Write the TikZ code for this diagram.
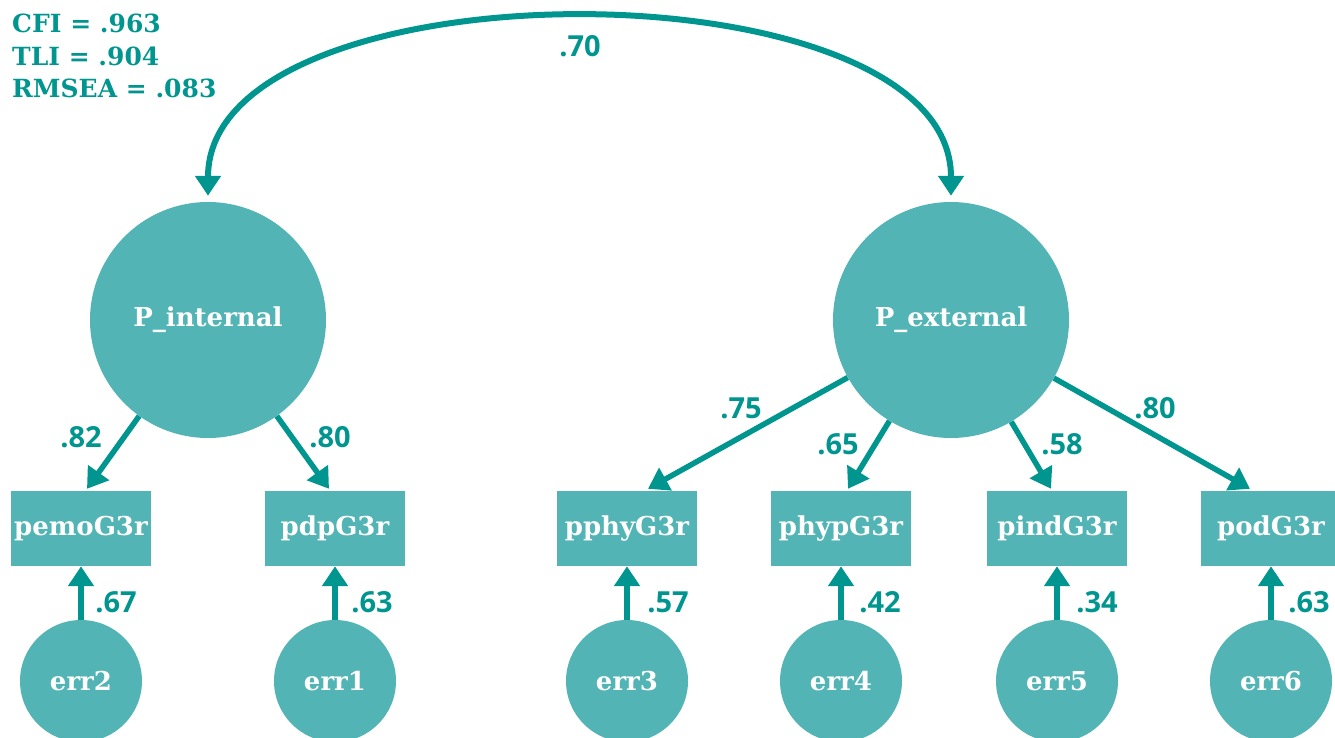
\documentclass[tikz,border=0pt]{standalone}
\usepackage{fontspec}
\usetikzlibrary{arrows.meta,calc}
\newfontfamily\slabfont{DejaVu Serif}[BoldFont={DejaVu Serif Bold}]
\newfontfamily\numfont{Open Sans}[BoldFont={Open Sans Bold}]
\definecolor{tealline}{RGB}{0,150,143}
\definecolor{tealfill}{RGB}{82,180,180}

\tikzset{
  latent/.style={circle, fill=tealfill, minimum size=236pt, inner sep=0pt,
    text=white, font=\slabfont\bfseries\fontsize{26}{30}\selectfont},
  errvar/.style={circle, fill=tealfill, minimum size=122pt, inner sep=0pt,
    text=white, font=\slabfont\bfseries\fontsize{26}{30}\selectfont},
  observed/.style={rectangle, fill=tealfill, minimum width=140pt, minimum height=75pt,
    inner sep=0pt, text=white, font=\slabfont\bfseries\fontsize{26}{30}\selectfont},
  path/.style={draw=tealline, line width=5.5pt, -{Triangle[width=25pt,length=20pt]}},
  covpath/.style={draw=tealline, line width=6pt,
    {Triangle[width=25pt,length=20pt]}-{Triangle[width=25pt,length=20pt]}},
  coef/.style={text=tealline, inner sep=0pt, font=\numfont\bfseries\fontsize{29}{32}\selectfont},
  fitline/.style={text=tealline, inner sep=0pt, anchor=base west,
    font=\slabfont\bfseries\fontsize{25}{30}\selectfont},
}

\begin{document}
\begin{tikzpicture}[x=1pt, y=-1pt]
\useasboundingbox (0,0) rectangle (1335,738);

% fit indices
\node[fitline] (cfi) at (12,33) {CFI = .963};
\node[fitline] (tli) at (12,66) {TLI = .904};
\node[fitline] (rmsea) at (12,98) {RMSEA = .083};

% latent factors
\node[latent] (pint) at (208,320) {P\_internal};
\node[latent] (pext) at (951,320) {P\_external};

% indicators
\node[observed] (pemo) at (81,528.5) {pemoG3r};
\node[observed] (pdp)  at (335,528.5) {pdpG3r};
\node[observed] (pphy) at (627,528.5) {pphyG3r};
\node[observed] (phyp) at (841,528.5) {phypG3r};
\node[observed] (pind) at (1057,528.5) {pindG3r};
\node[observed] (pod)  at (1271,528.5) {podG3r};

% error terms
\node[errvar] (e2) at (81,681) {err2};
\node[errvar] (e1) at (335,681) {err1};
\node[errvar] (e3) at (627,681) {err3};
\node[errvar] (e4) at (841,681) {err4};
\node[errvar] (e5) at (1057,681) {err5};
\node[errvar] (e6) at (1271,681) {err6};

% arrow targets on the indicator boxes
\coordinate (tpemo) at ($(pemo.north)+(6,-2)$);
\coordinate (tpdp)  at ($(pdp.north)+(-6,-2)$);
\coordinate (tpphy) at ($(pphy.north)+(21,-2)$);
\coordinate (tphyp) at ($(phyp.north)+(7,-2)$);
\coordinate (tpind) at ($(pind.north)+(-6,-2)$);
\coordinate (tpod)  at ($(pod.north)+(-21,-2)$);

% factor covariance
\draw[covpath] ([yshift=6pt]pint.north) .. controls +(0,-236) and +(0,-236) .. ([yshift=6pt]pext.north);
\node[coef] (r) at (580,46) {.70};

% loadings
\draw[path] (pint) -- (tpemo);
\draw[path] (pint) -- (tpdp);
\draw[path] (pext) -- (tpphy);
\draw[path] (pext) -- (tphyp);
\draw[path] (pext) -- (tpind);
\draw[path] (pext) -- (tpod);
\node[coef] (l1) at (81,437) {.82};
\node[coef] (l2) at (330,437) {.80};
\node[coef] (l3) at (741,408) {.75};
\node[coef] (l4) at (838,444) {.65};
\node[coef] (l5) at (1062,444) {.58};
\node[coef] (l6) at (1155,408) {.80};

% residual paths
\draw[path] (e2) -- (pemo);
\draw[path] (e1) -- (pdp);
\draw[path] (e3) -- (pphy);
\draw[path] (e4) -- (phyp);
\draw[path] (e5) -- (pind);
\draw[path] (e6) -- (pod);
\node[coef] (u2) at (116,602) {.67};
\node[coef] (u1) at (372,602) {.63};
\node[coef] (u3) at (668,602) {.57};
\node[coef] (u4) at (880,602) {.42};
\node[coef] (u5) at (1097,602) {.34};
\node[coef] (u6) at (1309,602) {.63};
\end{tikzpicture}
\end{document}
